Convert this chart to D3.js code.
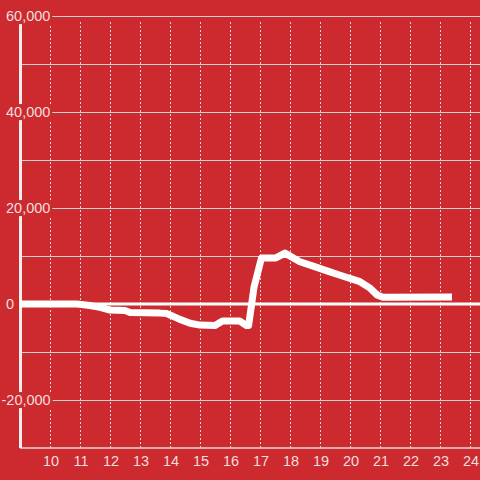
<!DOCTYPE html>
<html>
<head>
<meta charset="utf-8">
<script src="https://cdn.jsdelivr.net/npm/d3@7"></script>
<style>
  html, body { margin: 0; padding: 0; background: #cc2a2f; }
  svg { display: block; font-family: "Liberation Sans", Arial, sans-serif; }
</style>
</head>
<body>
<div id="chart"></div>
<script>
// hours of the day (decimal) and the running value at that time
var hours  = [9, 10.9, 11.33, 11.67, 12.0, 12.5, 12.67, 13.67, 13.9, 14.0, 14.33, 14.67, 15.0, 15.5, 15.75, 16.33, 16.55, 16.62, 16.8, 17.05, 17.53, 17.83, 18.33, 18.77, 19.33, 19.67, 20.33, 20.67, 20.9, 21.1, 23.4];
var values = [0, 0, -300, -700, -1250, -1350, -1770, -1900, -2000, -2300, -3200, -4000, -4400, -4500, -3550, -3550, -4500, -4500, 3500, 9600, 9600, 10600, 8800, 7900, 6700, 6000, 4650, 3300, 1900, 1400, 1450];

var yTicks = [-20000, 0, 20000, 40000, 60000];
var yMinor = [-30000, -10000, 10000, 30000, 50000];
var xTicks = [10, 11, 12, 13, 14, 15, 16, 17, 18, 19, 20, 21, 22, 23, 24];

var width = 480, height = 480;
var bg = "#cc2a2f";

var svg = d3.select("#chart").append("svg")
	.attr("width", width)
	.attr("height", height);

svg.append("rect")
	.attr("width", width)
	.attr("height", height)
	.attr("fill", bg);

var x = d3.scaleLinear().domain([9, 24.333]).range([20, 480]);
var y = d3.scaleLinear().domain([-30000, 60000]).range([448, 16]);

// vertical dashed grid
svg.append("g").selectAll("line")
	.data(xTicks)
	.enter().append("line")
	.attr("x1", function(d) { return Math.round(x(d)) + 0.5; })
	.attr("x2", function(d) { return Math.round(x(d)) + 0.5; })
	.attr("y1", 22)
	.attr("y2", y(-30000))
	.attr("stroke", "#e6d3d3")
	.attr("stroke-width", 1)
	.attr("stroke-dasharray", "2,2");

// horizontal grid, major + minor
svg.append("g").selectAll("line")
	.data(yTicks.concat(yMinor).filter(function(d) { return d !== 0 && d !== -30000; }))
	.enter().append("line")
	.attr("x1", 20)
	.attr("x2", width)
	.attr("y1", function(d) { return Math.round(y(d)) + 0.5; })
	.attr("y2", function(d) { return Math.round(y(d)) + 0.5; })
	.attr("stroke", "#d6d0d0")
	.attr("stroke-width", 1);

// bottom baseline
svg.append("line")
	.attr("x1", 20).attr("x2", width)
	.attr("y1", y(-30000)).attr("y2", y(-30000))
	.attr("stroke", "#e0d6d6")
	.attr("stroke-width", 1.5);

// y axis line
svg.append("line")
	.attr("x1", 20.5).attr("x2", 20.5)
	.attr("y1", y(60000)).attr("y2", y(-30000))
	.attr("stroke", "#f2eeee")
	.attr("stroke-width", 3);

// zero line
svg.append("line")
	.attr("x1", 20).attr("x2", width)
	.attr("y1", y(0)).attr("y2", y(0))
	.attr("stroke", "#ffffff")
	.attr("stroke-width", 3);

// y labels with a background patch that hides the axis
var fmt = d3.format(",");
var yl = svg.append("g").selectAll("g")
	.data(yTicks)
	.enter().append("g");

var ylText = yl.append("text")
	.attr("x", function(d) { return d < 0 ? 1.5 : 6; })
	.attr("y", function(d) { return y(d); })
	.attr("dy", "0.35em")
	.attr("text-anchor", "start")
	.attr("fill", "#f3dede")
	.style("font-size", "14.5px")
	.text(function(d) { return fmt(d).replace("−", "-"); });

ylText.each(function(d) {
	var bb = this.getBBox();
	d3.select(this.parentNode).insert("rect", "text")
		.attr("x", bb.x - 1)
		.attr("y", bb.y)
		.attr("width", bb.width + 3)
		.attr("height", bb.height)
		.attr("fill", bg);
});

// x labels
svg.append("g").selectAll("text")
	.data(xTicks)
	.enter().append("text")
	.attr("x", function(d) { return x(d) + 1; })
	.attr("y", 466)
	.attr("text-anchor", "middle")
	.attr("fill", "#f3dede")
	.style("font-size", "14.5px")
	.text(function(d) { return d; });

// data line
var line = d3.line()
	.x(function(d, i) { return x(hours[i]); })
	.y(function(d) { return y(d); });

svg.append("path")
	.datum(values)
	.attr("d", line)
	.attr("fill", "none")
	.attr("stroke", "#ffffff")
	.attr("stroke-width", 7)
	.attr("stroke-linejoin", "round")
	.attr("stroke-linecap", "butt");
</script>
</body>
</html>
